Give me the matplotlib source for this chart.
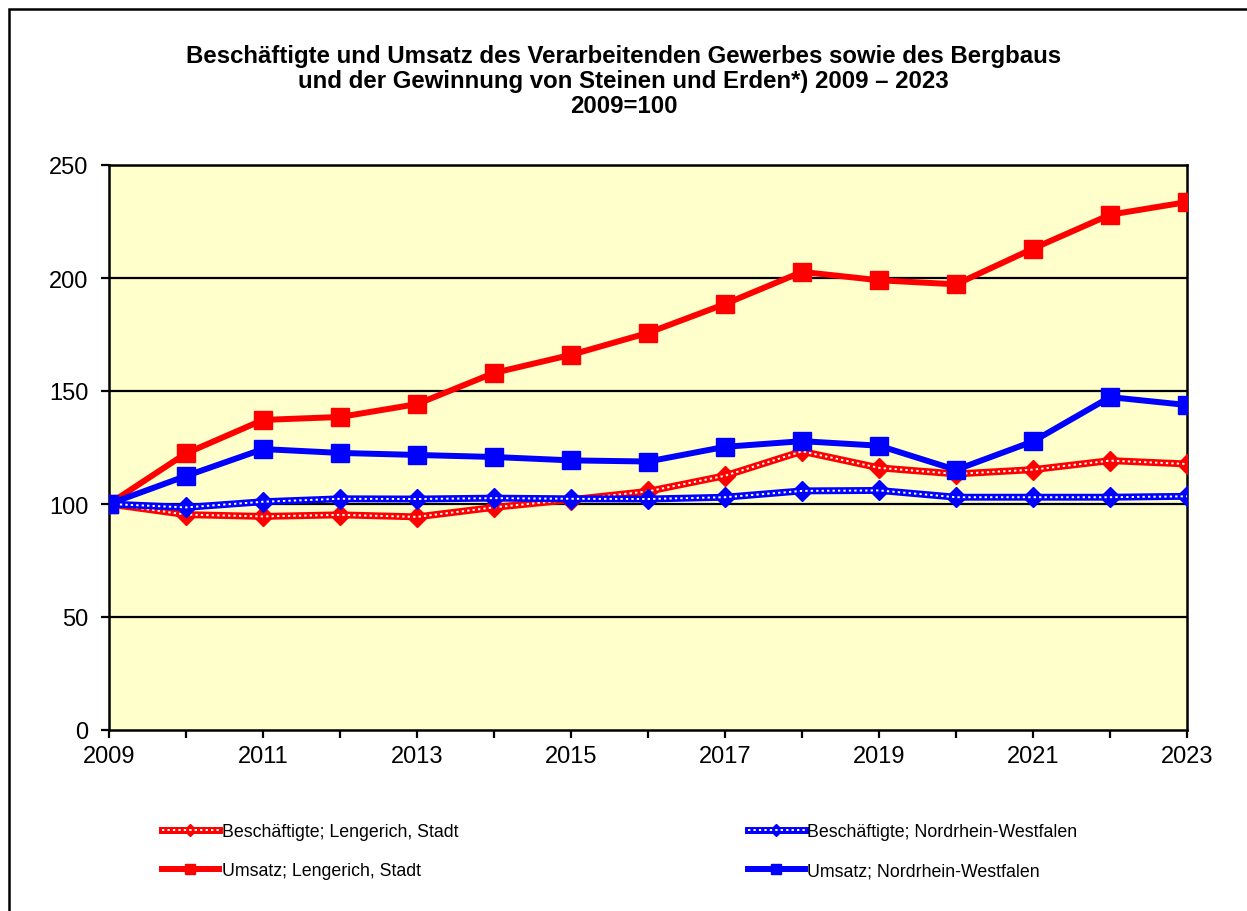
import matplotlib
matplotlib.use("Agg")
import matplotlib.pyplot as plt
import matplotlib.patches as patches

plt.rcParams['font.family'] = ['Liberation Sans', 'DejaVu Sans']

jahre = list(range(2009, 2024))

# 2009 = 100
besch_lengerich = [100, 95.3, 94.5, 95.2, 94.3, 98.5, 101.9, 105.6, 112.5, 123.3,
                   116.0, 113.3, 115.2, 119.2, 117.7]
besch_nrw = [100, 98.5, 101.0, 102.3, 102.2, 102.6, 102.3, 102.2, 103.0, 105.8,
             106.0, 103.0, 103.0, 103.0, 103.4]
umsatz_lengerich = [100, 122.4, 137.2, 138.5, 144.2, 158.0, 166.0, 175.7, 188.5, 202.7,
                    199.0, 197.2, 213.0, 228.0, 233.6]
umsatz_nrw = [100, 112.4, 124.3, 122.6, 121.7, 120.8, 119.3, 118.8, 125.3, 127.8,
              125.8, 115.1, 127.7, 147.3, 143.8]

labels = ["Beschäftigte; Lengerich, Stadt", "Umsatz; Lengerich, Stadt",
          "Beschäftigte; Nordrhein-Westfalen", "Umsatz; Nordrhein-Westfalen"]

titel = ("Beschäftigte und Umsatz des Verarbeitenden Gewerbes sowie des Bergbaus\n"
         "und der Gewinnung von Steinen und Erden*) 2009 – 2023\n"
         "2009=100")

rot = '#FF0000'
blau = '#0000FF'

fig = plt.figure(figsize=(12.47, 9.12), dpi=100)
ax = fig.add_axes([109/1247, 1-731/912, (1187-109)/1247, (731-166)/912])
ax.set_facecolor('#FFFFCC')

# Rahmen um den Diagrammbereich (rechts/unten abgeschnitten)
fig.patches.append(patches.Rectangle((8.5/1247, -0.1), 1.2, 1.1 - 10/912,
                                     transform=fig.transFigure, fill=False,
                                     lw=1.8, edgecolor='black'))

for y in [50, 100, 150, 200, 250]:
    ax.axhline(y, color='black', lw=1.6, zorder=1)

def beschaeftigte(werte, farbe):
    l1, = ax.plot(jahre, werte, color=farbe, lw=5, marker='D', markersize=10.5,
                  zorder=3)
    l2, = ax.plot(jahre, werte, color='white', lw=1.4, ls=(0, (1.2, 1.6)), zorder=3)
    return (l1, l2)

h_bl = beschaeftigte(besch_lengerich, rot)
h_bn = beschaeftigte(besch_nrw, blau)
h_ul, = ax.plot(jahre, umsatz_lengerich, color=rot, lw=4.3, marker='s', markersize=12.5,
                zorder=4)
h_un, = ax.plot(jahre, umsatz_nrw, color=blau, lw=4.3, marker='s', markersize=12.5,
                zorder=5)

ax.set_xlim(2009, 2023)
ax.set_ylim(0, 250)
ax.set_yticks([0, 50, 100, 150, 200, 250])
ax.set_xticks(list(range(2009, 2024, 2)))
ax.set_xticks(jahre, minor=True)
ax.tick_params(axis='both', labelsize=17, length=6, width=1.6, color='black',
               direction='out')
ax.tick_params(axis='x', which='minor', length=6, width=1.6)
ax.tick_params(axis='x', pad=5)
ax.tick_params(axis='y', pad=9)
for s in ax.spines.values():
    s.set_linewidth(1.8)
    s.set_color('black')

fig.text(0.5, 1 - 45/912, titel, ha='center', va='top', fontsize=17.3,
         fontweight='bold', linespacing=1.12)

fig.legend([h_bl, h_ul, h_bn, h_un], labels, ncol=2, frameon=False,
           loc='upper left', bbox_to_anchor=(146/1247, 1 - 808/912),
           fontsize=12.8, handlelength=3.2, handletextpad=0.15,
           columnspacing=16.3, labelspacing=1.25, markerscale=0.6)

fig.savefig('out.png', dpi=100)
